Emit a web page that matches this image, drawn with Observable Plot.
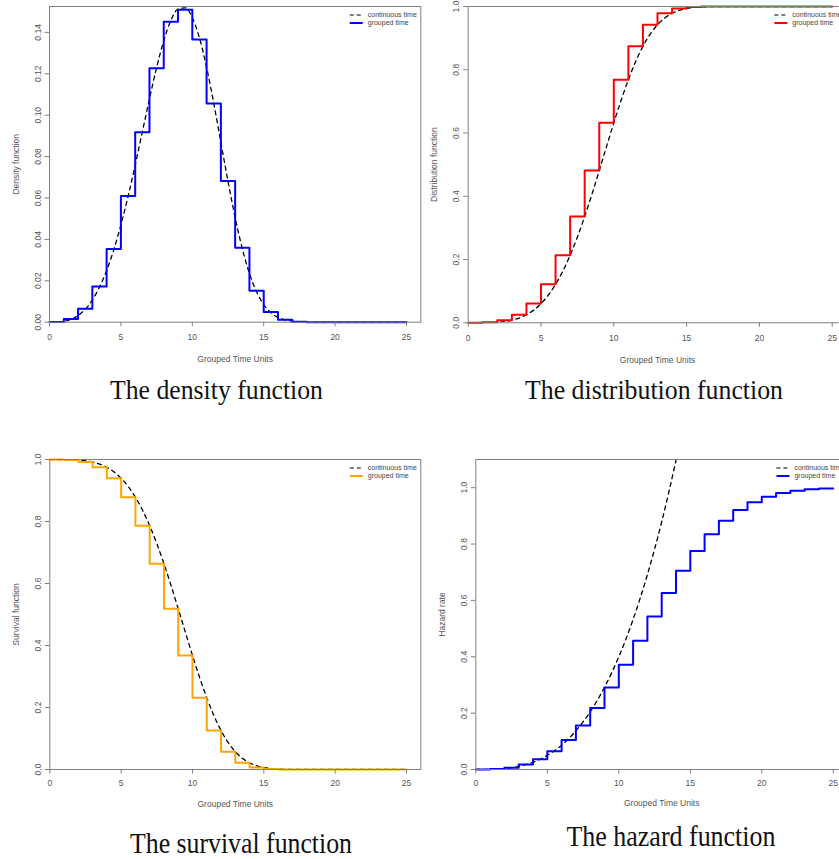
<!DOCTYPE html>
<html><head><meta charset="utf-8">
<script src="https://cdn.jsdelivr.net/npm/d3@7"></script>
<script src="https://cdn.jsdelivr.net/npm/@observablehq/plot@0.6"></script>
<style>
html,body{margin:0;padding:0;background:#fff;overflow:hidden;}
#root{position:relative;width:839px;height:859px;overflow:hidden;background:#fff;}
</style></head><body><div id="root"></div>
<script>
// ---- data ----
const stepTime = [0,1,2,3,4,5,6,7,8,9,10,11,12,13,14,15,16,17,18,19,20,21,22,23,24,25];
const densityGrouped = [0.0001,0.0015,0.0065,0.0172,0.0353,0.0610,0.0918,0.1227,0.1451,0.1509,0.1366,0.1056,0.0682,0.0360,0.0152,0.0049,0.0012,0.0002,0,0,0,0,0,0,0];
const cdfGrouped = [0.0001,0.0016,0.0081,0.0253,0.0606,0.1216,0.2134,0.3361,0.4812,0.6321,0.7687,0.8743,0.9425,0.9785,0.9937,0.9986,0.9998,1,1,1,1,1,1,1,1];
const survGrouped = [0.9999,0.9984,0.9919,0.9747,0.9394,0.8784,0.7866,0.6639,0.5188,0.3679,0.2313,0.1257,0.0575,0.0215,0.0063,0.0014,0.0002,0,0,0,0,0,0,0,0];
const hazGrouped = [0.0001,0.0015,0.0065,0.0173,0.0362,0.0649,0.1046,0.1559,0.2185,0.2910,0.3713,0.4564,0.5427,0.6267,0.7050,0.7749,0.8344,0.8830,0.9207,0.9486,0.9682,0.9813,0.9895,0.9944,0.9972];

const contTime = [0,0.5,1,1.5,2,2.5,3,3.5,4,4.5,5,5.5,6,6.5,7,7.5,8,8.5,9,9.5,10,10.5,11,11.5,12,12.5,13,13.5,14,14.5,15,15.5,16,16.5,17,17.5,18,25];
const densityCont = [0,0.00005,0.0004,0.00135,0.00319,0.00623,0.01071,0.0169,0.02495,0.03499,0.04697,0.06073,0.0759,0.09189,0.10792,0.12298,0.13597,0.14575,0.15129,0.15188,0.14715,0.13732,0.12314,0.10582,0.08691,0.06802,0.05055,0.03554,0.02356,0.01467,0.00855,0.00464,0.00233,0.00109,0.00046,0.00018,0.00006,0];
const cdfCont = [0,0,0.0001,0.0005,0.0016,0.0039,0.0081,0.0149,0.0253,0.0402,0.0606,0.0874,0.1216,0.1635,0.2134,0.2712,0.3361,0.4067,0.4812,0.5571,0.6321,0.7034,0.7687,0.826,0.8743,0.9129,0.9425,0.9639,0.9785,0.988,0.9937,0.9969,0.9986,0.9994,0.9998,0.9999,1,1];
const survCont = [1,1,0.9999,0.9995,0.9984,0.9961,0.9919,0.9851,0.9747,0.9598,0.9394,0.9126,0.8784,0.8365,0.7866,0.7288,0.6639,0.5933,0.5188,0.4429,0.3679,0.2966,0.2313,0.174,0.1257,0.0871,0.0575,0.0361,0.0215,0.012,0.0063,0.0031,0.0014,0.0006,0.0002,0.0001,0,0];
const hazTime = [0,0.5,1,1.5,2,2.5,3,3.5,4,4.5,5,5.5,6,6.5,7,7.5,8,8.5,9,9.5,10,10.5,11,11.5,12,12.5,13,13.5,14];
const hazCont = [0,0.00005,0.0004,0.00135,0.0032,0.00625,0.0108,0.01715,0.0256,0.03645,0.05,0.06655,0.0864,0.10985,0.1372,0.16875,0.2048,0.24565,0.2916,0.34295,0.4,0.46305,0.5324,0.60835,0.6912,0.78125,0.8788,0.98415,1.0976];

const xTicks = [0,5,10,15,20,25];
const densityTicks = [0,0.02,0.04,0.06,0.08,0.10,0.12,0.14];
const probTicks = [0,0.2,0.4,0.6,0.8,1.0];
const legendLabels = ["continuous time","grouped time"];
const captions = ["The density function","The distribution function","The survival function","The hazard function"];
const yLabels = ["Density function","Distribution function","Survival function","Hazard rate"];
const xLabel = "Grouped Time Units";

const root = document.getElementById("root");
const AX = "#808080", TXT = "#555";

function panel(cfg) {
  const contData = cfg.contT.map((t, i) => ({t, v: cfg.contV[i]}));
  const stepData = stepTime.map((t, i) => ({t, v: cfg.stepV[Math.min(i, cfg.stepV.length - 1)]}));
  const svg = Plot.plot({
    width: cfg.width, height: cfg.height,
    marginTop: cfg.mt, marginBottom: cfg.mb, marginLeft: cfg.ml, marginRight: cfg.mr,
    style: {background: "transparent", maxWidth: "none", fontFamily: "'Liberation Sans', Arial, sans-serif", fontSize: "8.5px", overflow: "visible"},
    x: {domain: [0, 26]},
    y: {domain: cfg.yDomain},
    marks: [
      Plot.line(contData, {x: "t", y: "v", stroke: "black", strokeWidth: 1.3, strokeDasharray: "4,4", curve: "monotone-x", clip: true}),
      Plot.line(stepData, {x: "t", y: "v", stroke: cfg.color, strokeWidth: 2, curve: "step-after"}),
      Plot.frame({stroke: AX, strokeWidth: 1}),
      Plot.axisX(xTicks, {tickSize: 4.5, tickPadding: cfg.xPad, stroke: AX, fill: TXT, fontSize: 8.5,
        label: xLabel, labelAnchor: "center", labelArrow: "none", labelOffset: cfg.xLabOff}),
      Plot.axisY(cfg.yTicks, {tickSize: 4.5, tickPadding: 4.5, tickRotate: -90, tickFormat: d3.format(cfg.fmt),
        stroke: AX, fill: TXT, fontSize: 8.5, label: cfg.yLabel, labelAnchor: "center", labelArrow: "none", labelOffset: 37})
    ]
  });
  svg.style.position = "absolute";
  svg.style.left = cfg.left + "px";
  svg.style.top = cfg.top + "px";
  root.appendChild(svg);
}

const panels = [
  {left: 0, top: 0, width: 421, height: 370, mt: 6, mb: 48.3, ml: 49, mr: 0.7, yDomain: [0, 0.1525], yTicks: densityTicks, fmt: ".2f",
   yLabel: yLabels[0], contT: contTime, contV: densityCont, stepV: densityGrouped, color: "#0000ff", xPad: 7.5, xLabOff: 40},
  {left: 420, top: 0, width: 426.3, height: 370, mt: 6, mb: 47.7, ml: 47.7, mr: 0, yDomain: [0, 1], yTicks: probTicks, fmt: ".1f",
   yLabel: yLabels[1], contT: contTime, contV: cdfCont, stepV: cdfGrouped, color: "#ff0000", xPad: 7.5, xLabOff: 40},
  {left: 0, top: 445, width: 421, height: 370, mt: 14, mb: 46, ml: 49.3, mr: 0.7, yDomain: [0, 1], yTicks: probTicks, fmt: ".1f",
   yLabel: yLabels[2], contT: contTime, contV: survCont, stepV: survGrouped, color: "#ffa500", xPad: 6, xLabOff: 37},
  {left: 420, top: 445, width: 427.1, height: 370, mt: 14, mb: 46, ml: 55.3, mr: 0, yDomain: [0, 1.1], yTicks: probTicks, fmt: ".1f",
   yLabel: yLabels[3], contT: hazTime, contV: hazCont, stepV: hazGrouped, color: "#0000ff", xPad: 6, xLabOff: 37}
];
panels.forEach(panel);

// overlay: legends and captions
const ov = d3.select(root).append("svg")
  .attr("width", 839).attr("height", 859)
  .style("position", "absolute").style("left", "0px").style("top", "0px");

panels.forEach((p, i) => {
  const fl = p.left + p.ml, ft = p.top + p.mt, fw = p.width - p.ml - p.mr;
  const x0 = fl + 0.81 * fw, x1 = x0 + 13;
  const rows = [ft + 9, ft + 17];
  ov.append("line").attr("x1", x0).attr("x2", x1).attr("y1", rows[0]).attr("y2", rows[0])
    .attr("stroke", "black").attr("stroke-width", 1.2).attr("stroke-dasharray", "4,3");
  ov.append("line").attr("x1", x0).attr("x2", x1).attr("y1", rows[1]).attr("y2", rows[1])
    .attr("stroke", p.color).attr("stroke-width", 2);
  legendLabels.forEach((lab, j) => {
    ov.append("text").attr("x", x1 + 5).attr("y", rows[j]).attr("dy", "0.35em")
      .attr("font-family", "'Liberation Sans', Arial, sans-serif").attr("font-size", 7)
      .attr("fill", "#444").text(lab);
  });
});

const capPos = [
  {x: 216.5, y: 399, len: 213, fs: 28},
  {x: 654, y: 399, len: 258, fs: 28},
  {x: 241, y: 853, len: 222, fs: 30},
  {x: 671, y: 846, len: 209, fs: 30}
];
captions.forEach((c, i) => {
  const p = capPos[i];
  ov.append("text").attr("x", p.x).attr("y", p.y).attr("text-anchor", "middle")
    .attr("font-family", "'Liberation Serif', 'Times New Roman', serif").attr("font-size", p.fs)
    .attr("textLength", p.len).attr("lengthAdjust", "spacingAndGlyphs")
    .attr("fill", "#111").text(c);
});
</script></body></html>
